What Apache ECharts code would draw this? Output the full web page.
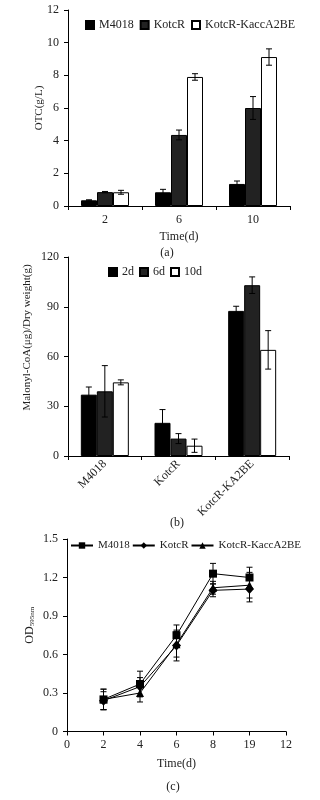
<!DOCTYPE html>
<html>
<head>
<meta charset="utf-8">
<script src="https://cdn.jsdelivr.net/npm/echarts@6/dist/echarts.min.js"></script>
<style>
  html, body { margin: 0; padding: 0; background: #fff; }
  .panel { position: absolute; left: 0; width: 320px; }
</style>
</head>
<body>
<div id="chartA" class="panel" style="top:0;height:262px;"></div>
<div id="chartB" class="panel" style="top:240px;height:290px;"></div>
<div id="chartC" class="panel" style="top:515px;height:285px;"></div>
<script>
// (a) OTC yield
const timesA = ["2", "6", "10"];
const otcM4018 = [0.35, 0.84, 1.35];
const otcM4018Err = [0.03, 0.18, 0.18];
const otcKotcR = [0.85, 4.35, 6.0];
const otcKotcRErr = [0.04, 0.3, 0.7];
const otcKacc = [0.84, 7.9, 9.12];
const otcKaccErr = [0.12, 0.2, 0.5];

// (b) Malonyl-CoA
const strainsB = ["M4018", "KotcR", "KotcR-KA2BE"];
const mal2d = [37, 20, 87.5];
const mal2dErr = [4.6, 8, 2.8];
const mal6d = [39, 10.5, 103];
const mal6dErr = [15.5, 3, 5];
const mal10d = [44.4, 6.2, 64];
const mal10dErr = [1.5, 4, 11.6];

// (c) growth OD
const daysC = [2, 4, 6, 8, 10];
const xTickLabelsC = ["0", "2", "4", "6", "8", "19", "12"];
const odM4018 = [0.25, 0.37, 0.75, 1.23, 1.2];
const odM4018Err = [0.08, 0.1, 0.08, 0.08, 0.08];
const odKotcR = [0.24, 0.35, 0.67, 1.1, 1.11];
const odKotcRErr = [0.07, 0.07, 0.12, 0.05, 0.1];
const odKacc = [0.25, 0.3, 0.68, 1.12, 1.14];
const odKaccErr = [0.08, 0.07, 0.1, 0.05, 0.1];

const FONT = '"Liberation Serif", "DejaVu Serif", serif';
const TXT = "#222";

function axisStyle(extra) {
  return Object.assign({
    axisLine: { show: true, lineStyle: { color: "#000", width: 1 } },
    axisTick: { show: true, inside: false, length: 4, lineStyle: { color: "#000" } },
    axisLabel: { color: TXT, fontFamily: FONT, fontSize: 12 },
    splitLine: { show: false },
    nameMoveOverlap: false,
    nameTextStyle: { color: TXT, fontFamily: FONT, fontSize: 11 }
  }, extra);
}

// error bars drawn next to grouped bars (k = bar index in group)
function barErr(k, n, bw) {
  return function (params, api) {
    const i = api.value(0), v = api.value(1), e = api.value(2);
    const x = api.coord([i, v])[0] + (k - (n - 1) / 2) * bw;
    const top = api.coord([i, v + e])[1];
    const bot = api.coord([i, v - e])[1];
    const s = { stroke: "#000", lineWidth: 1 };
    return {
      type: "group",
      children: [
        { type: "line", shape: { x1: x, y1: top, x2: x, y2: bot }, style: s },
        { type: "line", shape: { x1: x - 3, y1: top, x2: x + 3, y2: top }, style: s },
        { type: "line", shape: { x1: x - 3, y1: bot, x2: x + 3, y2: bot }, style: s }
      ]
    };
  };
}

function pointErr(params, api) {
  const x = api.value(0), v = api.value(1), e = api.value(2);
  const p = api.coord([x, v + e]);
  const q = api.coord([x, v - e]);
  const s = { stroke: "#000", lineWidth: 1 };
  return {
    type: "group",
    children: [
      { type: "line", shape: { x1: p[0], y1: p[1], x2: q[0], y2: q[1] }, style: s },
      { type: "line", shape: { x1: p[0] - 3, y1: p[1], x2: p[0] + 3, y2: p[1] }, style: s },
      { type: "line", shape: { x1: q[0] - 3, y1: q[1], x2: q[0] + 3, y2: q[1] }, style: s }
    ]
  };
}

function errData(vals, errs) {
  return vals.map((v, i) => [i, v, errs[i]]);
}

function barSeries(name, data, color) {
  return {
    name: name, type: "bar", data: data, barWidth: 16, barGap: "0%",
    itemStyle: { color: color, borderColor: "#000", borderWidth: 1, borderRadius: 0 }
  };
}

function errSeries(vals, errs, k) {
  return {
    type: "custom", renderItem: barErr(k, 3, 16), data: errData(vals, errs),
    z: 10, silent: true, encode: { x: 0, y: 1 }
  };
}

function caption(text, x, y) {
  return {
    type: "text", x: x, y: y,
    style: { text: text, fill: TXT, font: "12px " + FONT, textAlign: "center", textVerticalAlign: "middle" }
  };
}

// ---------- (a) ----------
const chartA = echarts.init(document.getElementById("chartA"));
chartA.setOption({
  animation: false,
  textStyle: { fontFamily: FONT },
  grid: { left: 68, top: 10, width: 222, height: 196 },
  legend: {
    left: 80, top: 14, itemWidth: 8, itemHeight: 8, itemGap: 6, icon: "rect",
    textStyle: { color: TXT, fontFamily: FONT, fontSize: 12 },
    data: ["M4018", "KotcR", "KotcR-KaccA2BE"]
  },
  xAxis: axisStyle({
    type: "category", data: timesA, name: "Time(d)", nameLocation: "middle", nameGap: 25,
    nameTextStyle: { color: TXT, fontFamily: FONT, fontSize: 12 },
    axisLabel: { color: TXT, fontFamily: FONT, fontSize: 12, margin: 8 }
  }),
  yAxis: axisStyle({
    type: "value", min: 0, max: 12, interval: 2, name: "OTC(g/L)", nameLocation: "middle", nameGap: 23,
    axisLabel: { color: TXT, fontFamily: FONT, fontSize: 12, margin: 9 }
  }),
  graphic: [caption("(a)", 167, 253)],
  series: [
    barSeries("M4018", otcM4018, "#000"),
    barSeries("KotcR", otcKotcR, "#222"),
    barSeries("KotcR-KaccA2BE", otcKacc, "#fff"),
    errSeries(otcM4018, otcM4018Err, 0),
    errSeries(otcKotcR, otcKotcRErr, 1),
    errSeries(otcKacc, otcKaccErr, 2)
  ]
});

// ---------- (b) ----------
const chartB = echarts.init(document.getElementById("chartB"));
chartB.setOption({
  animation: false,
  textStyle: { fontFamily: FONT },
  grid: { left: 68, top: 17, width: 221, height: 199 },
  legend: {
    left: 103, top: 21, itemWidth: 8, itemHeight: 8, itemGap: 5, icon: "rect",
    textStyle: { color: TXT, fontFamily: FONT, fontSize: 12 },
    data: ["2d", "6d", "10d"]
  },
  xAxis: axisStyle({
    type: "category", data: strainsB,
    axisLabel: { color: TXT, fontFamily: FONT, fontSize: 12, rotate: 45, margin: 6 }
  }),
  yAxis: axisStyle({
    type: "value", min: 0, max: 120, interval: 30, name: "Malonyl-CoA(μg)/Dry weight(g)",
    nameLocation: "middle", nameGap: 35,
    nameTextStyle: { color: TXT, fontFamily: FONT, fontSize: 11, padding: [0, 0, 0, 38] },
    axisLabel: { color: TXT, fontFamily: FONT, fontSize: 12, margin: 9 }
  }),
  graphic: [caption("(b)", 177, 283)],
  series: [
    barSeries("2d", mal2d, "#000"),
    barSeries("6d", mal6d, "#222"),
    barSeries("10d", mal10d, "#fff"),
    errSeries(mal2d, mal2dErr, 0),
    errSeries(mal6d, mal6dErr, 1),
    errSeries(mal10d, mal10dErr, 2)
  ]
});

// ---------- (c) ----------
function lineSeries(name, vals, symbol, size) {
  return {
    name: name, type: "line", data: daysC.map((d, i) => [d, vals[i]]),
    symbol: symbol, symbolSize: size, showSymbol: true,
    lineStyle: { color: "#000", width: 1 }, itemStyle: { color: "#000" }
  };
}
function pointErrSeries(vals, errs) {
  return {
    type: "custom", renderItem: pointErr, data: daysC.map((d, i) => [d, vals[i], errs[i]]),
    z: 1, silent: true, encode: { x: 0, y: 1 }
  };
}

const chartC = echarts.init(document.getElementById("chartC"));
chartC.setOption({
  animation: false,
  textStyle: { fontFamily: FONT },
  grid: { left: 67, top: 24, width: 219, height: 192.5 },
  legend: {
    left: 70, top: 25, width: 250, padding: 0, itemWidth: 22, itemHeight: 8, itemGap: 2,
    textStyle: { color: TXT, fontFamily: FONT, fontSize: 11 },
    data: ["M4018", "KotcR", "KotcR-KaccA2BE"]
  },
  xAxis: axisStyle({
    type: "value", min: 0, max: 12, interval: 2, name: "Time(d)", nameLocation: "middle", nameGap: 26,
    nameTextStyle: { color: TXT, fontFamily: FONT, fontSize: 12 },
    axisLabel: { color: TXT, fontFamily: FONT, fontSize: 12, margin: 7, formatter: v => xTickLabelsC[v / 2] }
  }),
  yAxis: axisStyle({
    type: "value", min: 0, max: 1.5, interval: 0.3, name: "{a|OD}{b|595nm}",
    nameLocation: "middle", nameGap: 31,
    nameTextStyle: {
      color: TXT, fontFamily: FONT, fontSize: 12, padding: [0, 0, 0, 20],
      rich: { a: { fontSize: 12, fontFamily: FONT, color: TXT }, b: { fontSize: 7, fontFamily: FONT, color: TXT, verticalAlign: "bottom", padding: [6, 0, 0, 0] } }
    },
    axisLabel: { color: TXT, fontFamily: FONT, fontSize: 12, margin: 9, formatter: v => v === 0 ? "0" : v.toFixed(1) }
  }),
  graphic: [caption("(c)", 173, 272)],
  series: [
    lineSeries("M4018", odM4018, "rect", 8),
    lineSeries("KotcR", odKotcR, "diamond", [9, 10]),
    lineSeries("KotcR-KaccA2BE", odKacc, "triangle", 8),
    pointErrSeries(odM4018, odM4018Err),
    pointErrSeries(odKotcR, odKotcRErr),
    pointErrSeries(odKacc, odKaccErr)
  ]
});
</script>
</body>
</html>
